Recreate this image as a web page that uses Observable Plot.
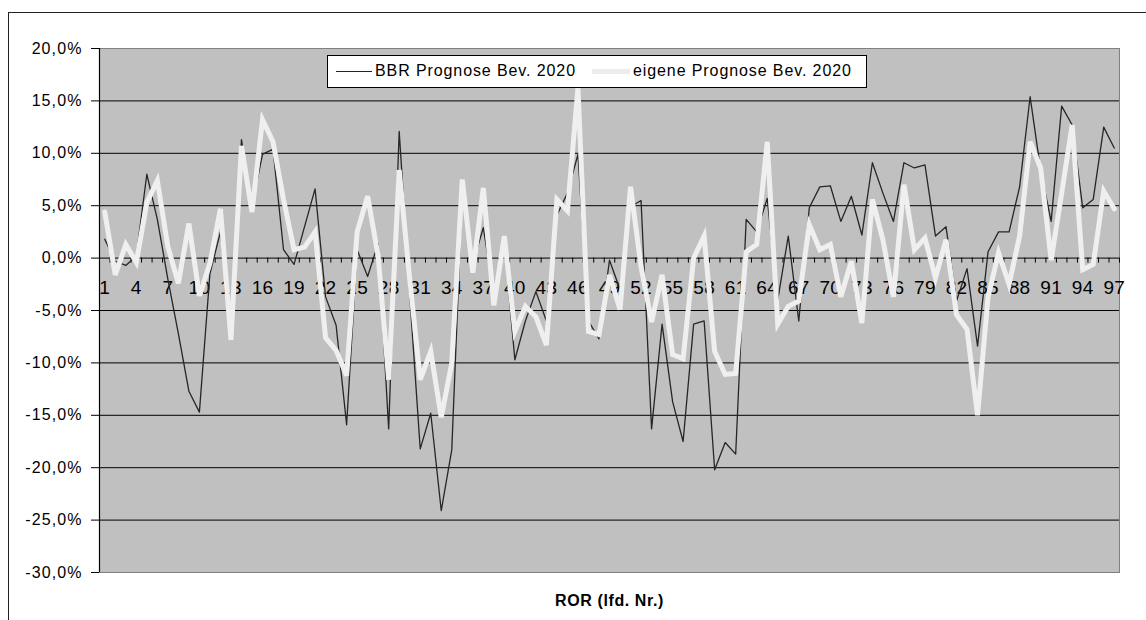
<!DOCTYPE html>
<html>
<head>
<meta charset="utf-8">
<script src="https://cdn.jsdelivr.net/npm/d3@7"></script>
<script src="https://cdn.jsdelivr.net/npm/@observablehq/plot@0.6"></script>
<style>
  html, body { margin: 0; padding: 0; background: #fff; }
  #wrap { position: relative; width: 1146px; height: 620px; overflow: hidden; font-family: "Liberation Sans", Arial, sans-serif; }
  #chart { position: absolute; left: 0; top: 0; }
  #chart g[aria-label="y-axis tick label"] text { letter-spacing: 1.1px; }
  #chart g.xt text { letter-spacing: 0.3px; }
  #chart g.ttl text { letter-spacing: 0.6px; }
  #outer { position: absolute; left: 8px; top: 12px; width: 1200px; height: 700px; border-left: 1.5px solid #222; border-top: 1.5px solid #222; }
  #legend { position: absolute; left: 327px; top: 55px; width: 540px; height: 33px; background: #fff; border: 1px solid #000; box-sizing: border-box; }
  .lg { position: absolute; top: 6px; font-size: 16px; letter-spacing: 0.9px; color: #000; white-space: nowrap; }
  .ls { position: absolute; top: 15px; }
</style>
</head>
<body>
<div id="wrap">
  <div id="outer"></div>
  <div id="chart"></div>
  <div id="legend">
    <div class="ls" style="left:8px;width:36px;height:1.3px;background:#222;"></div>
    <div class="lg" style="left:47px;">BBR Prognose Bev. 2020</div>
    <div class="ls" style="left:264px;top:13px;width:38px;height:5px;background:#ececec;"></div>
    <div class="lg" style="left:305px;">eigene Prognose Bev. 2020</div>
  </div>
</div>
<script>
const bbr = [1.8, -0.3, -0.7, 0.2, 8.0, 3.7, -2.0, -7.2, -12.7, -14.7,
  -1.5, 2.5, -7.0, 11.3, 5.0, 9.9, 10.4, 0.8, -0.6, 3.0,
  6.6, -3.7, -6.4, -15.9, 0.8, -1.75, 1.4, -16.3, 12.1, -3.5,
  -18.2, -14.8, -24.1, -18.3, 6.5, -0.5, 2.9, -3.5, 1.5, -9.7,
  -6.0, -3.2, -6.0, 4.1, 6.2, 9.9, -6.0, -7.7, -0.2, -3.0,
  4.9, 5.5, -16.3, -6.3, -13.7, -17.5, -6.3, -6.0, -20.2, -17.6,
  -18.7, 3.7, 2.5, 5.7, -4.0, 2.1, -6.0, 4.8, 6.8, 6.9,
  3.5, 5.9, 2.2, 9.1, 6.2, 3.5, 9.1, 8.6, 8.9, 2.1,
  3.0, -4.1, -1.0, -8.4, 0.6, 2.5, 2.5, 6.8, 15.4, 8.4,
  3.5, 14.5, 12.7, 4.8, 5.6, 12.5, 10.5];

const eigene = [4.4, -1.6, 1.3, -0.4, 5.3, 7.4, 1.1, -2.4, 3.3, -3.6,
  -0.5, 4.7, -7.8, 10.7, 4.4, 13.2, 11.1, 5.6, 0.8, 1.05,
  2.5, -7.6, -8.8, -11.2, 2.5, 5.9, 0.2, -11.6, 8.4, -2.0,
  -11.6, -8.9, -15.2, -10.0, 7.5, -1.4, 6.7, -4.5, 2.1, -7.0,
  -4.6, -5.6, -8.3, 5.6, 4.5, 16.2, -7.0, -7.3, -1.6, -4.9,
  6.8, -0.8, -6.1, -1.6, -9.2, -9.6, 0.0, 2.1, -8.9, -11.1,
  -11.0, 0.6, 1.3, 11.1, -6.3, -4.6, -4.1, 3.2, 0.8, 1.3,
  -3.7, -0.3, -6.2, 5.6, 1.75, -3.7, 7.0, 0.8, 1.9, -1.9,
  1.75, -5.4, -6.8, -15.0, -3.7, 0.5, -2.5, 2.1, 11.1, 8.6,
  -0.2, 6.2, 12.7, -1.1, -0.6, 6.4, 4.7];

const yTicks = [20, 15, 10, 5, 0, -5, -10, -15, -20, -25, -30];
const xLabels = d3.range(1, 98, 3);
const xBoundaries = d3.range(0.5, 98, 1);
const xTitle = "ROR (lfd. Nr.)";

const fmt = d => d.toFixed(1).replace(".", ",") + "%";
const idx = (d, i) => i + 1;

const plot = Plot.plot({
  width: 1146,
  height: 620,
  marginLeft: 99,
  marginRight: 27,
  marginTop: 48,
  marginBottom: 48,
  style: { fontFamily: "Liberation Sans, Arial, sans-serif", color: "#000", background: "transparent" },
  x: { type: "linear", domain: [0.5, 97.5], axis: null },
  y: { type: "linear", domain: [-30, 20], axis: null },
  marks: [
    Plot.frame({ fill: "#c0c0c0", stroke: null }),
    Plot.ruleY(yTicks, { stroke: "#000", strokeWidth: 1 }),
    Plot.frame({ stroke: "#808080", strokeWidth: 1 }),
    Plot.ruleX([0.5], { stroke: "#000", strokeWidth: 1.2 }),
    Plot.axisY({ ticks: yTicks, tickFormat: fmt, tickSize: 8, tickPadding: 9, fontSize: 16, label: null, stroke: "#000" }),
    Plot.ruleX(xBoundaries, { x: d => d, y1: 0, y2: 0, insetBottom: -5, stroke: "#000", strokeWidth: 1 }),
    Plot.text(xLabels, { x: d => d, y: 0, dy: 30, text: d => String(d), fontSize: 19, fill: "#000", className: "xt" }),
    Plot.lineY(bbr, { x: idx, y: d => d, stroke: "#262626", strokeWidth: 1.3 }),
    Plot.lineY(eigene, { x: idx, y: d => d, stroke: "#efefef", strokeWidth: 5, strokeLinejoin: "miter", strokeMiterlimit: 4 }),
    Plot.text([xTitle], { frameAnchor: "bottom", dy: 33, text: d => d, fontSize: 16, fontWeight: "bold", fill: "#000", className: "ttl" })
  ]
});
document.getElementById("chart").appendChild(plot);
</script>
</body>
</html>
